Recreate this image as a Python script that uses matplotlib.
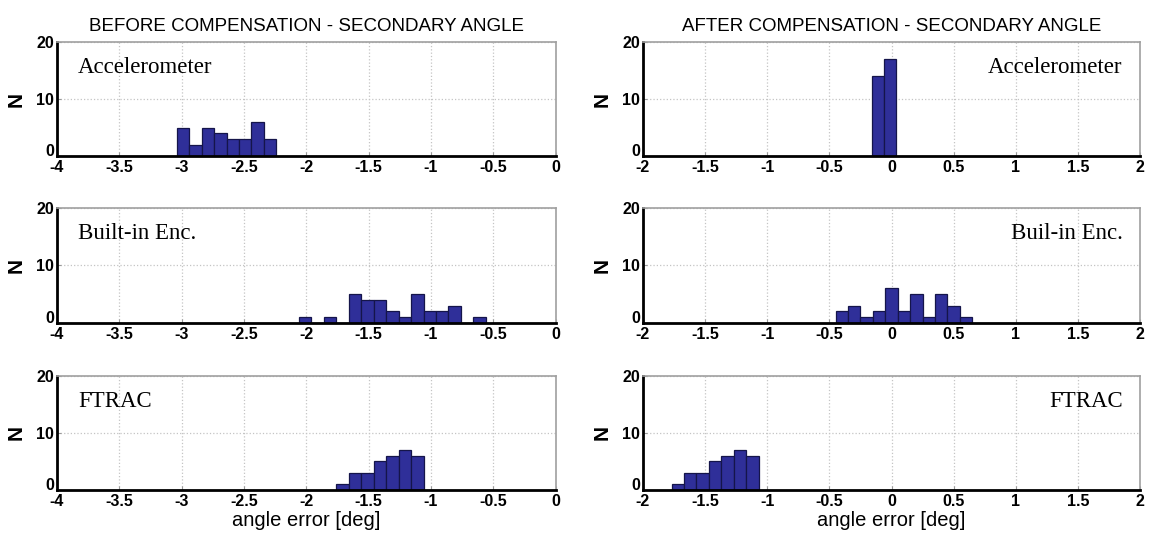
import matplotlib
matplotlib.use("Agg")
import matplotlib.pyplot as plt
import matplotlib.transforms as mtransforms
import numpy as np

plt.rcParams["font.family"] = ["Liberation Sans", "DejaVu Sans"]

# histogram data: left edge of first bin, bin width, counts
bin_width = 0.1

before_acc_start = -3.04
before_acc_counts = [5, 2, 5, 4, 3, 3, 6, 3]
before_enc_start = -2.06
before_enc_counts = [1, 0, 1, 0, 5, 4, 4, 2, 1, 5, 2, 2, 3, 0, 1]
before_ftrac_start = -1.76
before_ftrac_counts = [1, 3, 3, 5, 6, 7, 6]

after_acc_start = -0.16
after_acc_counts = [14, 17]
after_enc_start = -0.45
after_enc_counts = [2, 3, 1, 2, 6, 2, 5, 1, 5, 3, 1]
after_ftrac_start = -1.77
after_ftrac_counts = [1, 3, 3, 5, 6, 7, 6]

before_ticks = [-4, -3.5, -3, -2.5, -2, -1.5, -1, -0.5, 0]
before_ticklabels = ["-4", "-3.5", "-3", "-2.5", "-2", "-1.5", "-1", "-0.5", "0"]
after_ticks = [-2, -1.5, -1, -0.5, 0, 0.5, 1, 1.5, 2]
after_ticklabels = ["-2", "-1.5", "-1", "-0.5", "0", "0.5", "1", "1.5", "2"]
y_ticks = [0, 10, 20]

left_names = ["Accelerometer", "Built-in Enc.", "FTRAC"]
right_names = ["Accelerometer", "Buil-in Enc.", "FTRAC"]

bar_color = "#2f2f99"

fig = plt.figure(figsize=(11.49, 5.41), dpi=100)

rows = [(0.7116, 0.2107), (0.403, 0.2126), (0.0943, 0.2107)]
cols = [0.0496, 0.5596]
widths = [0.434, 0.4326]

panels = [
    [(before_acc_start, before_acc_counts), (after_acc_start, after_acc_counts)],
    [(before_enc_start, before_enc_counts), (after_enc_start, after_enc_counts)],
    [(before_ftrac_start, before_ftrac_counts), (after_ftrac_start, after_ftrac_counts)],
]


def draw_panel(ax, start, counts, xlim, ticks, ticklabels):
    lefts = start + bin_width * np.arange(len(counts))
    ax.bar(lefts, counts, width=bin_width, align="edge", color=bar_color,
           edgecolor="#15154a", linewidth=0.9, zorder=2)
    ax.set_xlim(*xlim)
    ax.set_ylim(0, 20)
    ax.set_xticks(ticks)
    ax.set_xticklabels(ticklabels)
    ax.set_yticks(y_ticks)
    ax.grid(True, linestyle=":", color="#c4c4c4", linewidth=0.9, zorder=0)
    for s in ["left", "bottom"]:
        ax.spines[s].set_linewidth(2.0)
        ax.spines[s].set_color("black")
    for s in ["top", "right"]:
        ax.spines[s].set_linewidth(1.2)
        ax.spines[s].set_color("#a0a0a0")
    ax.tick_params(axis="both", direction="in", length=3, width=0.8,
                   labelsize=11.5, colors="#999999", labelcolor="black")
    ax.tick_params(axis="x", pad=3)
    ax.tick_params(axis="y", pad=2)
    for lbl in ax.get_xticklabels() + ax.get_yticklabels():
        lbl.set_fontweight("semibold")
    # lift the y "0" a little so it does not collide with the first x label
    zero = ax.get_yticklabels()[0]
    zero.set_transform(zero.get_transform() +
                       mtransforms.ScaledTranslation(0, 4 / 72, fig.dpi_scale_trans))
    ax.set_ylabel("N", fontsize=15, fontweight="bold", rotation=90, labelpad=8)


for r in range(3):
    for c in range(2):
        ax = fig.add_axes([cols[c], rows[r][0], widths[c], rows[r][1]])
        start, counts = panels[r][c]
        if c == 0:
            draw_panel(ax, start, counts, (-4, 0), before_ticks, before_ticklabels)
            ax.text(0.042, 0.78, left_names[r], transform=ax.transAxes,
                    fontsize=16.5, family=["Liberation Serif", "DejaVu Serif"],
                    ha="left", va="center")
        else:
            draw_panel(ax, start, counts, (-2, 2), after_ticks, after_ticklabels)
            ax.text(0.965, 0.78, right_names[r], transform=ax.transAxes,
                    fontsize=16.5, family=["Liberation Serif", "DejaVu Serif"],
                    ha="right", va="center")
        if r == 0:
            title = "BEFORE COMPENSATION - SECONDARY ANGLE" if c == 0 else "AFTER COMPENSATION - SECONDARY ANGLE"
            ax.set_title(title, fontsize=13.5, pad=8)
        if r == 2:
            ax.set_xlabel("angle error [deg]", fontsize=14.5, labelpad=1)

fig.savefig("out.png", dpi=100)
